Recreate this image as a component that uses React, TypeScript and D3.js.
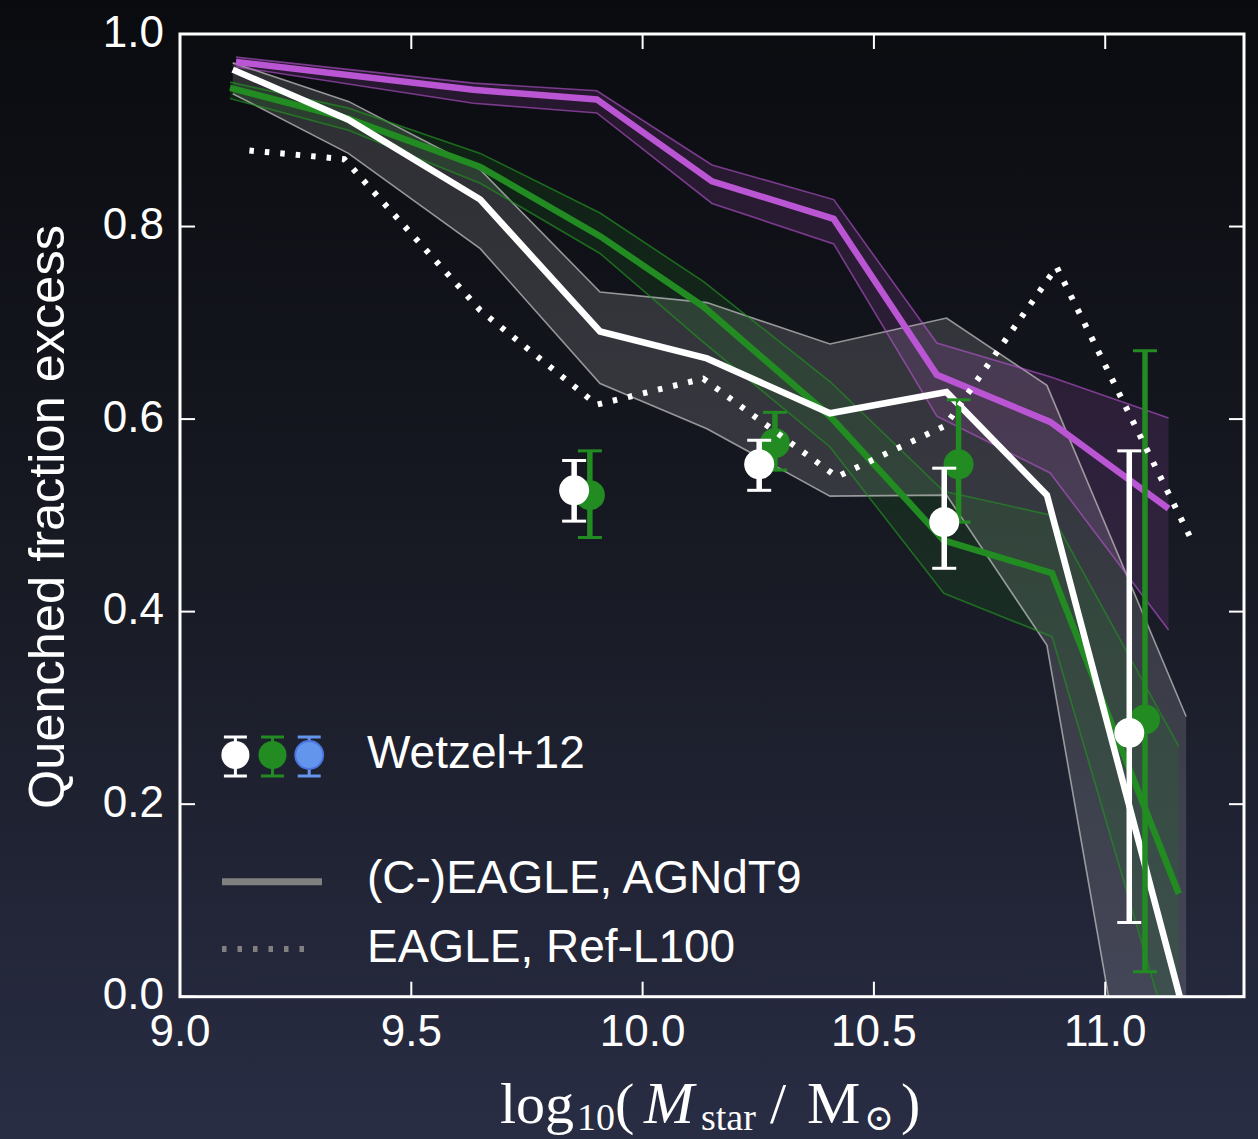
import React from 'react';
import * as d3 from 'd3';

// Axis ticks
const xTicks = [9.0, 9.5, 10.0, 10.5, 11.0];
const yTicks = [0.0, 0.2, 0.4, 0.6, 0.8, 1.0];

// (C-)EAGLE AGNdT9, full sample (white median with grey scatter band)
const ceagleMass = [9.114, 9.364, 9.649, 9.908, 10.139, 10.405, 10.657, 10.874, 11.175];
const ceagleMedian = [0.963, 0.911, 0.828, 0.691, 0.663, 0.606, 0.628, 0.521, -0.025];
const ceagleUpper = [0.970, 0.930, 0.859, 0.732, 0.721, 0.678, 0.705, 0.635, 0.291];
const ceagleLower = [0.938, 0.876, 0.777, 0.637, 0.590, 0.520, 0.521, 0.365, -0.46];

// (C-)EAGLE AGNdT9, green subsample
const greenMass = [9.108, 9.364, 9.649, 9.908, 10.131, 10.405, 10.651, 10.885, 11.159];
const greenMedian = [0.944, 0.912, 0.862, 0.790, 0.717, 0.603, 0.474, 0.440, 0.107];
const greenUpper = [0.950, 0.923, 0.876, 0.814, 0.743, 0.639, 0.525, 0.500, 0.260];
const greenLower = [0.933, 0.900, 0.845, 0.772, 0.680, 0.571, 0.419, 0.374, -0.075];

// (C-)EAGLE AGNdT9, purple subsample
const purpleMass = [9.121, 9.634, 9.901, 10.150, 10.413, 10.636, 10.881, 11.137];
const purpleMedian = [0.971, 0.942, 0.932, 0.847, 0.808, 0.646, 0.597, 0.507];
const purpleUpper = [0.976, 0.949, 0.941, 0.864, 0.828, 0.679, 0.644, 0.601];
const purpleLower = [0.966, 0.928, 0.918, 0.824, 0.782, 0.603, 0.544, 0.381];

// EAGLE Ref-L100
const refMass = [9.150, 9.355, 9.649, 9.901, 10.131, 10.420, 10.654, 10.895, 11.184];
const refValue = [0.879, 0.870, 0.713, 0.615, 0.642, 0.540, 0.593, 0.758, 0.477];

// Wetzel+12 observations
const wetzelWhiteMass = [9.852, 10.252, 10.652, 11.052];
const wetzelWhiteValue = [0.526, 0.553, 0.493, 0.274];
const wetzelWhiteLo = [0.494, 0.526, 0.445, 0.077];
const wetzelWhiteHi = [0.557, 0.578, 0.549, 0.567];

const wetzelGreenMass = [9.886, 10.286, 10.683, 11.086];
const wetzelGreenValue = [0.521, 0.575, 0.553, 0.288];
const wetzelGreenLo = [0.477, 0.547, 0.493, 0.026];
const wetzelGreenHi = [0.567, 0.607, 0.620, 0.671];

const legendLabels = ['Wetzel+12', '(C-)EAGLE, AGNdT9', 'EAGLE, Ref-L100'];

const WHITE = '#ffffff';
const GREEN = '#228B22';
const PURPLE = '#BA55D3';
const BLUE = '#6495ED';
const SANS = '"Liberation Sans", Arial, Helvetica, sans-serif';
const SERIF = '"Liberation Serif", "DejaVu Serif", serif';

type Row = { m: number; v: number; lo: number; hi: number };

function rows(m: number[], v: number[], lo: number[], hi: number[]): Row[] {
  return m.map((mm, i) => ({ m: mm, v: v[i], lo: lo[i], hi: hi[i] }));
}

export default function App() {
  const W = 1258;
  const H = 1139;
  const x0 = 180, x1 = 1244, y0 = 996.7, y1 = 34;
  const x = d3.scaleLinear().domain([9.0, 11.3]).range([x0, x1]);
  const y = d3.scaleLinear().domain([0, 1]).range([y0, y1]);

  const line = d3.line<Row>().x((d) => x(d.m)).y((d) => y(d.v));
  const upLine = d3.line<Row>().x((d) => x(d.m)).y((d) => y(d.hi));
  const loLine = d3.line<Row>().x((d) => x(d.m)).y((d) => y(d.lo));
  const band = d3.area<Row>().x((d) => x(d.m)).y0((d) => y(d.lo)).y1((d) => y(d.hi));

  const ceagle = rows(ceagleMass, ceagleMedian, ceagleLower, ceagleUpper);
  const green = rows(greenMass, greenMedian, greenLower, greenUpper);
  const purple = rows(purpleMass, purpleMedian, purpleLower, purpleUpper);
  const ref = rows(refMass, refValue, refValue, refValue);
  const wWhite = rows(wetzelWhiteMass, wetzelWhiteValue, wetzelWhiteLo, wetzelWhiteHi);
  const wGreen = rows(wetzelGreenMass, wetzelGreenValue, wetzelGreenLo, wetzelGreenHi);

  const tickLen = 15;

  const errorPoints = (data: Row[], color: string, key: string) => (
    <g key={key}>
      {data.map((d, i) => {
        const cx = x(d.m);
        return (
          <g key={i}>
            <line x1={cx} x2={cx} y1={y(d.lo)} y2={y(d.hi)} stroke={color} strokeWidth={5.5} />
            <line x1={cx - 12} x2={cx + 12} y1={y(d.lo)} y2={y(d.lo)} stroke={color} strokeWidth={3} />
            <line x1={cx - 12} x2={cx + 12} y1={y(d.hi)} y2={y(d.hi)} stroke={color} strokeWidth={3} />
            <circle cx={cx} cy={y(d.v)} r={15} fill={color} />
          </g>
        );
      })}
    </g>
  );

  const legendMarker = (cx: number, color: string, edge: string) => (
    <g key={cx}>
      <line x1={cx} x2={cx} y1={737} y2={776} stroke={color} strokeWidth={3} />
      <line x1={cx - 11.5} x2={cx + 11.5} y1={737} y2={737} stroke={color} strokeWidth={3} />
      <line x1={cx - 11.5} x2={cx + 11.5} y1={776} y2={776} stroke={color} strokeWidth={3} />
      <circle cx={cx} cy={755} r={14} fill={color} stroke={edge} strokeWidth={edge === color ? 0 : 2} />
    </g>
  );

  const labelBase = 1123;
  const subBase = 1130;

  return (
    <svg
      width={W}
      height={H}
      viewBox={`0 0 ${W} ${H}`}
      style={{ position: 'absolute', left: 0, top: 0, display: 'block' }}
    >
      <defs>
        <linearGradient id="bg" x1="0" y1="0" x2="0" y2="1">
          <stop offset="0" stopColor="#0a0b0f" />
          <stop offset="0.5" stopColor="#181a24" />
          <stop offset="1" stopColor="#292d44" />
        </linearGradient>
        <clipPath id="plotClip">
          <rect x={x0} y={y1} width={x1 - x0} height={y0 - y1} />
        </clipPath>
      </defs>
      <rect x={0} y={0} width={W} height={H} fill="url(#bg)" />

      <g clipPath="url(#plotClip)">
        {/* scatter bands */}
        <path d={band(ceagle) || ''} fill="#ffffff" fillOpacity={0.14} />
        <path d={band(green) || ''} fill={GREEN} fillOpacity={0.16} />
        <path d={band(purple) || ''} fill={PURPLE} fillOpacity={0.15} />

        <path d={upLine(ceagle) || ''} fill="none" stroke="#c8c8c8" strokeOpacity={0.7} strokeWidth={1.6} />
        <path d={loLine(ceagle) || ''} fill="none" stroke="#c8c8c8" strokeOpacity={0.7} strokeWidth={1.6} />
        <path d={upLine(green) || ''} fill="none" stroke={GREEN} strokeOpacity={0.7} strokeWidth={1.6} />
        <path d={loLine(green) || ''} fill="none" stroke={GREEN} strokeOpacity={0.7} strokeWidth={1.6} />
        <path d={upLine(purple) || ''} fill="none" stroke={PURPLE} strokeOpacity={0.6} strokeWidth={1.6} />
        <path d={loLine(purple) || ''} fill="none" stroke={PURPLE} strokeOpacity={0.6} strokeWidth={1.6} />

        {/* medians */}
        <path d={line(green) || ''} fill="none" stroke={GREEN} strokeWidth={6.5} />
        <path d={line(ceagle) || ''} fill="none" stroke={WHITE} strokeWidth={6.5} />
        <path d={line(purple) || ''} fill="none" stroke={PURPLE} strokeWidth={6.5} />

        {/* observations */}
        {errorPoints(wGreen, GREEN, 'wg')}
        {errorPoints(wWhite, WHITE, 'ww')}

        {/* EAGLE reference */}
        <path d={line(ref) || ''} fill="none" stroke={WHITE} strokeWidth={6} strokeDasharray="4.5 11" />
      </g>

      {/* frame */}
      <rect x={x0} y={y1} width={x1 - x0} height={y0 - y1} fill="none" stroke={WHITE} strokeWidth={3} />
      {xTicks.map((t) => (
        <g key={`xt${t}`}>
          <line x1={x(t)} x2={x(t)} y1={y0} y2={y0 - tickLen} stroke={WHITE} strokeWidth={2} />
          <line x1={x(t)} x2={x(t)} y1={y1} y2={y1 + tickLen} stroke={WHITE} strokeWidth={2} />
          <text x={x(t)} y={1046} textAnchor="middle" fill={WHITE} fontFamily={SANS} fontSize={44}>
            {t.toFixed(1)}
          </text>
        </g>
      ))}
      {yTicks.map((t) => (
        <g key={`yt${t}`}>
          <line x1={x0} x2={x0 + tickLen} y1={y(t)} y2={y(t)} stroke={WHITE} strokeWidth={2} />
          <line x1={x1} x2={x1 - tickLen} y1={y(t)} y2={y(t)} stroke={WHITE} strokeWidth={2} />
          <text x={164} y={y(t) + 12.5} textAnchor="end" fill={WHITE} fontFamily={SANS} fontSize={44}>
            {t.toFixed(1)}
          </text>
        </g>
      ))}

      {/* axis labels */}
      <text
        transform={`translate(64, 517) rotate(-90)`}
        textAnchor="middle"
        fill={WHITE}
        fontFamily={SANS}
        fontSize={50.5}
      >
        Quenched fraction excess
      </text>
      <g fill={WHITE} fontFamily={SERIF}>
        <text x={500} y={labelBase} fontSize={58}>log</text>
        <text x={577} y={subBase} fontSize={38}>10</text>
        <text x={615} y={labelBase} fontSize={58}>(</text>
        <text x={644} y={labelBase} fontSize={60} fontStyle="italic">M</text>
        <text x={701} y={subBase} fontSize={38}>star</text>
        <text x={770} y={labelBase} fontSize={58}>/</text>
        <text x={807} y={labelBase} fontSize={60}>M</text>
        <text x={864} y={subBase} fontSize={36} fontFamily='"DejaVu Serif", serif'>⊙</text>
        <text x={901} y={labelBase} fontSize={58}>)</text>
      </g>

      {/* legend */}
      {legendMarker(235.4, WHITE, WHITE)}
      {legendMarker(272.5, GREEN, GREEN)}
      {legendMarker(309.2, BLUE, '#4a74de')}
      <line x1={222} x2={322} y1={881.7} y2={881.7} stroke="#808080" strokeWidth={7} />
      <line x1={222} x2={312} y1={949} y2={949} stroke="#808080" strokeWidth={6} strokeDasharray="4.5 11" />
      <text x={367} y={768.3} fill={WHITE} fontFamily={SANS} fontSize={46}>{legendLabels[0]}</text>
      <text x={367} y={893.3} fill={WHITE} fontFamily={SANS} fontSize={46}>{legendLabels[1]}</text>
      <text x={367} y={961.7} fill={WHITE} fontFamily={SANS} fontSize={46}>{legendLabels[2]}</text>
    </svg>
  );
}
